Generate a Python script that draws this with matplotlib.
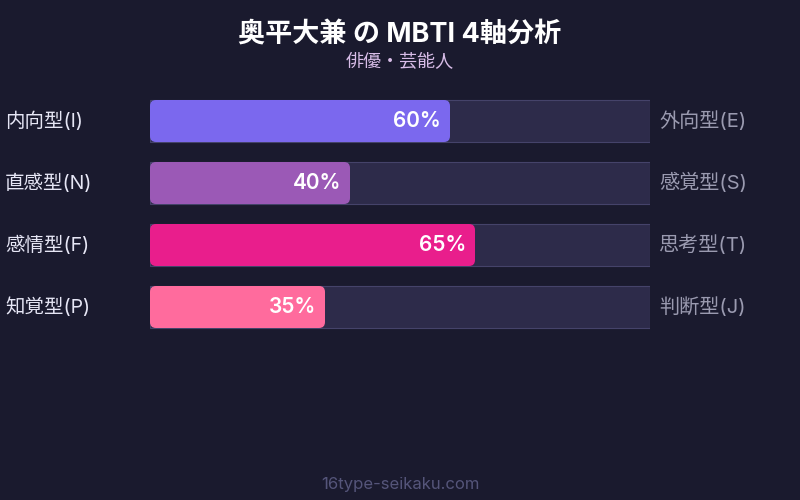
import matplotlib
matplotlib.use("Agg")
import matplotlib.pyplot as plt
from matplotlib.patches import FancyBboxPatch, Rectangle

plt.rcParams['font.family'] = ['Inter', 'Noto Sans CJK JP', 'DejaVu Sans']

title = "奥平大兼 の MBTI 4軸分析"
subtitle = "俳優・芸能人"
left_labels = ["内向型(I)", "直感型(N)", "感情型(F)", "知覚型(P)"]
right_labels = ["外向型(E)", "感覚型(S)", "思考型(T)", "判断型(J)"]
values = [60, 40, 65, 35]
colors = ["#7b68ee", "#9b59b6", "#e91e8c", "#ff6b9d"]
footer = "16type-seikaku.com"

BG = "#1a1a2e"
W, H = 800, 500
fig = plt.figure(figsize=(8, 5), dpi=100, facecolor=BG)

# bar axes: x 0..100 maps to px 150..650; rows 62 px apart centred at 121+62*i
top_px, bot_px = 90, 338
ax = fig.add_axes([150 / W, 1 - bot_px / H, 500 / W, (bot_px - top_px) / H])
ax.set_xlim(0, 100)
ax.set_ylim(len(values) - 0.5, -0.5)
ax.axis("off")
ax.set_facecolor(BG)

bh = 42 / 62
px_x = 100 / 500
px_y = 1 / 62
for i, (v, c) in enumerate(zip(values, colors)):
    ax.add_patch(Rectangle((0, i - bh / 2), 100, bh, facecolor="#2d2b4a",
                           edgecolor="#45436a", linewidth=0.8, zorder=1))
    r = 6 * px_x
    ax.add_patch(FancyBboxPatch((0, i - bh / 2), v, bh,
                                boxstyle=f"round,pad=0,rounding_size={r}",
                                mutation_aspect=px_y / px_x,
                                facecolor=c, edgecolor="none", zorder=2))
    ax.text(v - 9 * px_x, i, f"{v}%", ha="right", va="center", color="white",
            fontsize=15, fontweight="semibold", zorder=3)
    ax.text(-145 * px_x, i, left_labels[i], ha="left", va="center",
            color="#e6e6f5", fontsize=14, clip_on=False)
    ax.text(100 + 9 * px_x, i, right_labels[i], ha="left", va="center",
            color="#9a9ab0", fontsize=14.5, clip_on=False)

fig.text(0.5, 1 - 35 / H, title, ha="center", va="center", color="white",
         fontsize=19.5, fontweight="bold")
fig.text(0.5, 1 - 63 / H, subtitle, ha="center", va="center", color="#d8bde8",
         fontsize=13)
fig.text(0.5, 1 - 485 / H, footer, ha="center", va="center", color="#55557a",
         fontsize=12)

fig.savefig("out.png", dpi=100, facecolor=BG)
